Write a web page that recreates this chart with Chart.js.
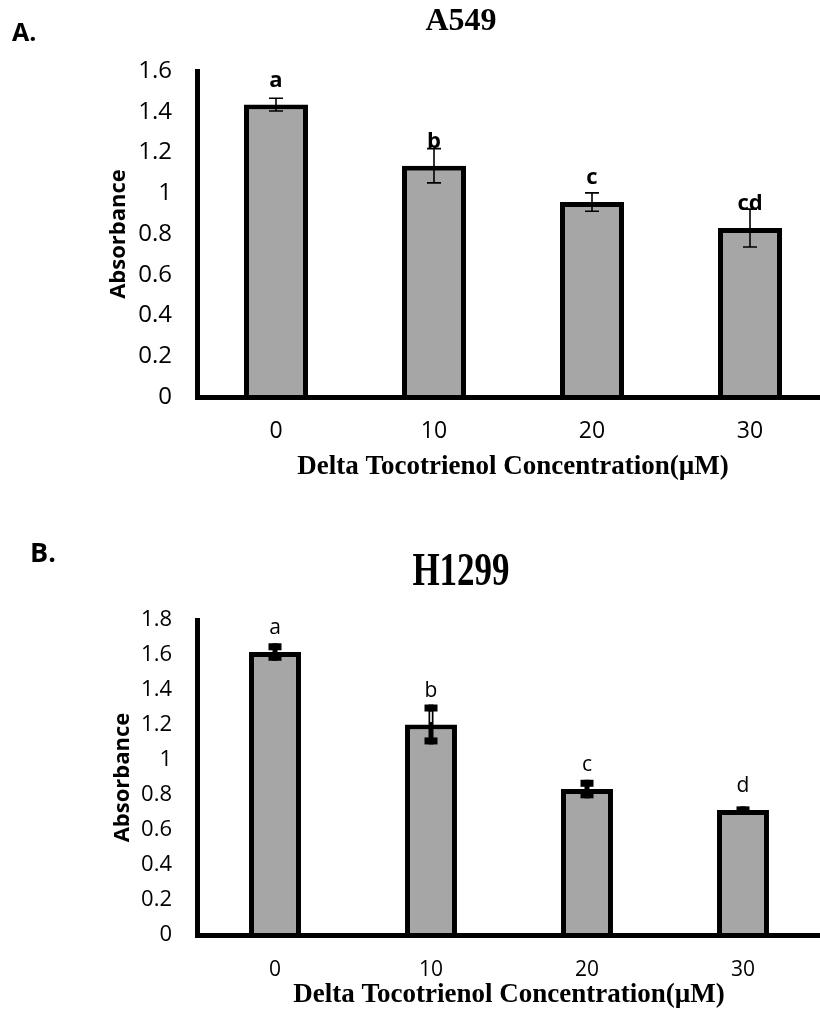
<!DOCTYPE html>
<html><head><meta charset="utf-8">
<script src="https://cdn.jsdelivr.net/npm/chart.js@4/dist/chart.umd.min.js"></script>
<style>
html,body{margin:0;padding:0;background:#fff;overflow:hidden;width:820px;height:1018px;}
canvas{position:absolute;left:0;}
#cA{top:0}
#cB{top:510px}
</style></head><body>
<canvas id="cA" width="830" height="510"></canvas>
<canvas id="cB" width="830" height="508"></canvas>
<script>
// ---- data ----
const categories = ['0', '10', '20', '30'];
const xAxisTitle = 'Delta Tocotrienol Concentration(µM)';
const yAxisTitle = 'Absorbance';

const a549Title = 'A549';
const a549Panel = 'A.';
const a549Values = [1.435, 1.135, 0.957, 0.829];
const a549Errors = [0.031, 0.084, 0.045, 0.093];
const a549Letters = ['a', 'b', 'c', 'cd'];
const a549YMax = 1.6;

const h1299Title = 'H1299';
const h1299Panel = 'B.';
const h1299Values = [1.617, 1.203, 0.834, 0.714];
const h1299Errors = [0.05, 0.114, 0.053, 0.021];
const h1299Letters = ['a', 'b', 'c', 'd'];
const h1299YMax = 1.8;

const yStep = 0.2;

// ---- plugins ----
const errorBarPlugin = {
  id: 'errorBars',
  afterDatasetsDraw(chart, args, opts) {
    const ctx = chart.ctx, y = chart.scales.y;
    const meta = chart.getDatasetMeta(0);
    const data = chart.data.datasets[0].data;
    ctx.save();
    meta.data.forEach((bar, i) => {
      const v = data[i], e = opts.errors[i];
      const x = bar.x;
      const yt = y.getPixelForValue(v + e), yb = y.getPixelForValue(v - e), yv = y.getPixelForValue(v);
      if (opts.style === 'thin') {
        ctx.strokeStyle = '#000'; ctx.lineWidth = 1.6;
        ctx.beginPath();
        ctx.moveTo(x, yt); ctx.lineTo(x, yb);
        ctx.moveTo(x - 7, yt); ctx.lineTo(x + 7, yt);
        ctx.moveTo(x - 7, yb); ctx.lineTo(x + 7, yb);
        ctx.stroke();
      } else {
        const capH = Math.min(7, (yb - yt) / 2);
        ctx.fillStyle = '#000';
        ctx.fillRect(x - 2.5, yt, 5, yb - yt);
        const innerTop = yt + capH, innerBot = yv - 2.5;
        if (innerBot > innerTop) {
          ctx.fillStyle = '#cfcfcf';
          ctx.fillRect(x - 1, innerTop, 2, innerBot - innerTop);
        }
        ctx.fillStyle = '#000';
        ctx.fillRect(x - 6.5, yt, 13, capH);
        ctx.fillRect(x - 6.5, yb - capH, 13, capH);
      }
      // significance letters
      ctx.fillStyle = '#000';
      ctx.font = opts.letterFont;
      ctx.textAlign = 'center';
      ctx.textBaseline = 'alphabetic';
      let base = yv - 18;
      if (opts.letterMode === 'min') base = Math.min(yv - 18, yt - 8);
      ctx.fillText(opts.letters[i], x, base);
    });
    ctx.restore();
  }
};

const panelTextPlugin = {
  id: 'panelText',
  afterDraw(chart, args, opts) {
    const ctx = chart.ctx;
    ctx.save();
    ctx.fillStyle = '#000';
    ctx.textBaseline = 'alphabetic';
    ctx.textAlign = 'left';
    ctx.font = opts.panelFont;
    ctx.fillText(opts.panel, opts.panelX, opts.panelY);
    ctx.textAlign = 'center';
    ctx.font = opts.titleFont;
    ctx.translate(opts.titleX, opts.titleY);
    ctx.scale(1, opts.titleStretch);
    ctx.fillText(opts.title, 0, 0);
    ctx.restore();
  }
};

function makeChart(id, cfg) {
  return new Chart(document.getElementById(id), {
    type: 'bar',
    data: {
      labels: categories,
      datasets: [{
        data: cfg.values,
        backgroundColor: '#a6a6a6',
        borderColor: '#000',
        borderWidth: 5,
        barPercentage: cfg.barPct,
        categoryPercentage: 1
      }]
    },
    options: {
      responsive: false,
      animation: false,
      devicePixelRatio: 1,
      layout: { padding: cfg.padding },
      plugins: {
        legend: { display: false },
        tooltip: { enabled: false },
        errorBars: cfg.errorOpts,
        panelText: cfg.textOpts
      },
      scales: {
        x: {
          grid: { display: false, drawTicks: false },
          border: { display: true, color: '#000', width: 5, z: 1 },
          ticks: { color: '#000', font: { family: 'Open Sans', size: cfg.xTickSize }, padding: cfg.xTickPad },
          title: {
            display: true, text: xAxisTitle, color: '#000',
            font: { family: 'Liberation Serif', weight: 'bold', size: 27 },
            padding: { top: 0, bottom: cfg.xTitlePad }
          },
          afterFit: s => { s.height = cfg.xHeight; }
        },
        y: {
          min: 0, max: cfg.yMax,
          grid: { display: false, drawTicks: false },
          border: { display: true, color: '#000', width: 5 },
          ticks: {
            stepSize: yStep, color: '#000',
            font: { family: 'Open Sans', size: cfg.yTickSize }, padding: 25,
            callback: v => String(Math.round(v * 10) / 10)
          },
          title: {
            display: true, text: yAxisTitle, color: '#000',
            font: { family: 'Open Sans', weight: 'bold', size: 22 },
            padding: { top: cfg.yTitlePad, bottom: 0 }
          },
          afterFit: s => { s.width = 97; }
        }
      }
    },
    plugins: [errorBarPlugin, panelTextPlugin]
  });
}

makeChart('cA', {
  values: a549Values, yMax: a549YMax, barPct: 0.405,
  padding: { left: 100, right: 1, top: 71, bottom: 13 },
  xHeight: 100, xTickSize: 23, xTickPad: 21, xTitlePad: 14, yTickSize: 24, yTitlePad: 6,
  errorOpts: { errors: a549Errors, letters: a549Letters, style: 'thin', letterMode: 'bar', letterFont: 'bold 22px "Open Sans"' },
  textOpts: { panel: a549Panel, panelX: 12, panelY: 41, panelFont: 'bold 25px "Open Sans"',
              title: a549Title, titleX: 461, titleY: 30, titleStretch: 1, titleFont: 'bold 32px "Liberation Serif"' }
});

makeChart('cB', {
  values: h1299Values, yMax: h1299YMax, barPct: 0.333,
  padding: { left: 100, right: 9, top: 110, bottom: 3 },
  xHeight: 80, xTickSize: 21, xTickPad: 22, xTitlePad: 3.5, yTickSize: 22, yTitlePad: 10,
  errorOpts: { errors: h1299Errors, letters: h1299Letters, style: 'thick', letterMode: 'min', letterFont: '21px "Open Sans"' },
  textOpts: { panel: h1299Panel, panelX: 30, panelY: 52, panelFont: 'bold 27px "Open Sans"',
              title: h1299Title, titleX: 461, titleY: 75, titleStretch: 1.34, titleFont: 'bold 35px "Liberation Serif"' }
});
</script>
</body></html>
